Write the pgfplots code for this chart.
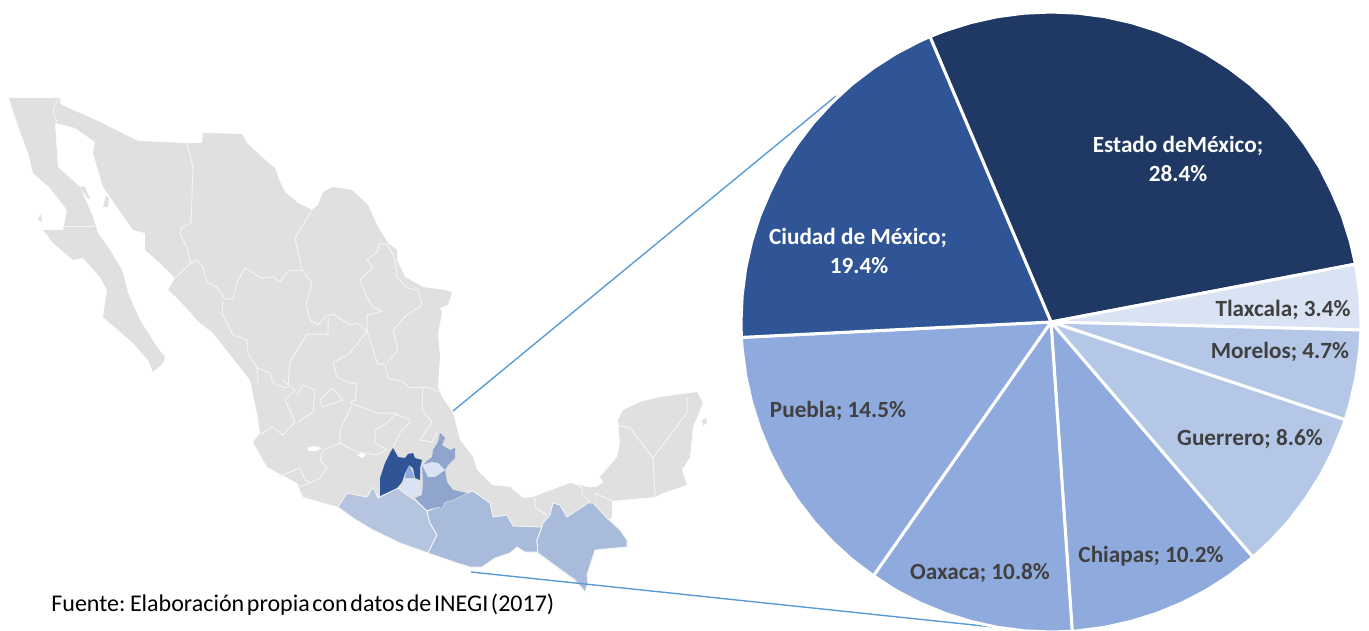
\documentclass[border=0pt]{standalone}
\usepackage{fontspec}
\setmainfont{Carlito}
\newfontfamily\fuente[WordSpace=0.5]{Carlito}
\usepackage{pgfplots}
\pgfplotsset{compat=1.18}
\definecolor{cEst}{HTML}{1F3864}
\definecolor{cCiu}{HTML}{2F5597}
\definecolor{cMid}{HTML}{8FAADC}
\definecolor{cLow}{HTML}{B4C7E7}
\definecolor{cTla}{HTML}{DAE3F3}
\definecolor{cTxt}{HTML}{404040}
\definecolor{cMap}{HTML}{E0E0E0}
\definecolor{cLine}{HTML}{5B9BD5}
\definecolor{cPue}{HTML}{8FA5CE}
\definecolor{cOax}{HTML}{A9BBDB}
\definecolor{cGro}{HTML}{B5C5E0}
\definecolor{cBrd}{HTML}{F4F4F4}
\pgfplotsset{
  slice/.style={draw=white,line width=1.5pt,line join=round,fill=#1},
  state/.style={draw=none,fill=#1},
  border/.style={draw=cBrd,line width=0.5pt,line join=round},
  cst/.style={draw=cBrd,line width=0.45pt,line join=round,fill=#1},
}
\begin{document}
\begin{tikzpicture}
\begin{axis}[hide axis,scale only axis,width=684.5pt,height=315.5pt,
  xmin=0,xmax=1369,ymin=0,ymax=631,y dir=reverse]
\path (rel axis cs:0,0) rectangle (rel axis cs:1,1);
% ---- map base
\addplot[state=cMap] coordinates {
(9,98)(61,98)(60,104)(100,122)(138,141)(187,143)(202,143)(203,133)(242,134)(247,143)(263,158)(275,168)(280,182)(285,192)(298,203)(312,210)(318,205)(323,192)(333,187)(352,190)(368,205)(378,227)(388,243)(397,250)(397,260)(405,277)(423,287)(445,290)(452,292)(448,305)(440,308)(442,313)(438,333)(440,357)(438,387)(442,397)(453,413)(460,440)(473,457)(477,470)(492,485)(510,487)(523,498)(533,497)(570,483)(588,487)(600,477)(617,457)(620,443)(618,420)(623,410)(640,402)(660,397)(697,392)(703,403)(693,427)(690,457)(682,470)(687,485)(663,493)(655,497)(612,501)(612,517)(603,525)(560,535)(450,535)(350,515)(338,507)(303,497)(297,483)(267,467)(253,442)(260,433)(257,413)(250,380)(213,333)(200,323)(177,298)(168,290)(175,278)(160,263)(145,250)(145,233)(133,230)(117,207)(103,187)(93,153)(95,142)(75,128)(55,123)(58,167)(80,187)(93,217)(98,233)(110,250)(122,270)(128,293)(140,320)(157,347)(165,357)(163,363)(153,372)(148,360)(133,343)(103,317)(107,290)(100,277)(83,258)(73,260)(53,243)(43,230)(63,230)(67,210)(50,188)(33,173)(28,153)(17,123)
} --cycle;
\addplot[state=cMap] coordinates {(103,207)(106,196)(109,198)(108,207)} --cycle;
\addplot[state=cMap] coordinates {(80,187)(84,186)(90,198)(88,199)} --cycle;
\addplot[state=cMap] coordinates {(39,217)(41,214)(42,222)(38,220)} --cycle;
\addplot[state=cMap] coordinates {(702,420)(706,418)(707,422)(703,426)} --cycle;
% ---- lakes
\addplot[state=white] coordinates {(307,448)(313,446)(322,448)(316,451)(309,451)} --cycle;
\addplot[state=white] coordinates {(357,455)(362,453)(366,455)(362,458)} --cycle;
\addplot[state=white] coordinates {(588,487)(600,477)(603,482)(596,487)} --cycle;
% ---- state borders
\addplot[border] coordinates {(63,226)(95,226)};
\addplot[border] coordinates {(61,98)(55,104)(53,113)(57,122)};
\addplot[border] coordinates {(187,143)(193,167)(191,223)(182,227)(180,233)(188,250)(190,262)(192,262)(175,278)};
\addplot[border] coordinates {(192,262)(197,260)(203,267)(207,282)(217,287)(225,299)(233,299)(237,282)(245,268)(262,278)(273,277)(280,282)(288,271)(302,270)};
\addplot[border] coordinates {(312,210)(295,238)(302,270)(312,283)(306,305)(310,320)(318,325)(325,317)(333,314)(350,325)(357,323)(367,331)};
\addplot[border] coordinates {(328,318)(328,334)(307,334)(297,350)(290,362)(288,387)};
\addplot[border] coordinates {(223,301)(222,313)(233,335)(247,340)(248,353)(257,368)(258,383)};
\addplot[border] coordinates {(257,368)(270,373)(273,383)(285,388)(288,387)};
\addplot[border] coordinates {(388,245)(380,243)(377,252)(367,260)(373,268)(360,280)(367,297)(373,307)(382,311)(367,315)(367,331)};
\addplot[border] coordinates {(388,245)(395,260)(397,277)(407,288)(418,290)(422,305)(407,315)(393,330)(398,350)(387,363)};
\addplot[border] coordinates {(367,331)(378,365)(385,363)};
\addplot[border] coordinates {(367,331)(350,353)(333,363)(337,377)(350,383)(357,383)(355,400)(350,403)(377,413)(393,413)(410,420)};
\addplot[border] coordinates {(385,365)(388,378)(403,382)(410,388)(427,387)(440,392)};
\addplot[border] coordinates {(423,388)(422,410)(432,422)(425,432)(420,440)(432,442)(437,432)};
\addplot[border] coordinates {(320,400)(332,388)(343,400)(322,407)(320,400)};
\addplot[border] coordinates {(352,405)(340,430)(340,443)(357,452)(377,455)(387,450)};
\addplot[border] coordinates {(397,413)(387,423)(375,430)(375,443)(387,450)};
\addplot[border] coordinates {(410,422)(400,433)(393,447)};
\addplot[border] coordinates {(340,443)(323,450)(320,460)(327,468)(320,478)(310,483)(300,487)};
\addplot[border] coordinates {(278,477)(300,468)(305,480)(310,483)};
\addplot[border] coordinates {(260,435)(272,427)(283,435)(295,422)(285,400)(295,390)(283,380)};
\addplot[border] coordinates {(298,422)(313,412)(315,390)(303,385)(297,395)};
\addplot[border] coordinates {(535,498)(535,507)(547,515)};
\addplot[border] coordinates {(573,483)(582,488)(582,495)(590,502)};
\addplot[border] coordinates {(595,498)(595,493)(612,501)};
\addplot[border] coordinates {(618,425)(630,428)(653,458)(655,497)};
\addplot[border] coordinates {(687,397)(687,413)(653,458)};
% ---- coloured states
\addplot[cst=cGro] coordinates {(338,507)(347,493)(367,497)(373,487)(378,498)(398,488)(407,495)(415,500)(427,511)(430,523)(437,535)(428,553)(400,543)(373,530)(353,518)} --cycle;
\addplot[cst=cOax] coordinates {(427,511)(438,507)(442,508)(445,502)(453,500)(467,493)(473,491)(490,503)(493,517)(507,515)(513,526)(542,527)(537,540)(538,552)(525,552)(517,547)(510,553)(495,558)(482,567)(470,567)(457,563)(428,553)(437,535)(430,523)} --cycle;
\addplot[cst=cOax] coordinates {(542,527)(543,523)(550,515)(553,503)(560,505)(567,517)(588,503)(593,503)(607,518)(620,530)(627,540)(627,547)(595,550)(587,575)(588,583)(585,592)(575,580)(557,567)(538,553)(537,540)} --cycle;
\addplot[state=cPue] coordinates {(440,433)(445,438)(442,445)(450,450)(455,448)(455,458)(448,465)(445,470)(447,482)(453,490)(467,493)(453,500)(445,502)(442,508)(438,507)(427,510)(415,498)(422,495)(423,482)(422,466)(428,460)(432,457)(433,450)(438,442)} --cycle;
\addplot[state=cTla] coordinates {(422,465)(432,462)(438,463)(445,470)(435,477)(428,477)} --cycle;
\addplot[state=cTla] coordinates {(405,478)(415,478)(420,482)(419,493)(410,497)(402,490)} --cycle;
\addplot[state=cMid] coordinates {(409,465)(413,473)(414,478)(405,478)(406,472)} --cycle;
\addplot[state=cCiu] coordinates {(393,448)(398,457)(405,458)(408,454)(413,453)(415,458)(422,460)(420,468)(420,480)(415,478)(413,468)(409,465)(405,473)(402,482)(397,488)(380,496)(380,478)(385,463)(390,453)} --cycle;
% ---- connectors
\addplot[draw=cLine,line width=0.7pt] coordinates {(453,411)(836,96)};
\addplot[draw=cLine,line width=0.7pt] coordinates {(471,572)(1012,629)};
% ---- pie
\addplot[slice=cEst] coordinates {(1051,322)(929.9,36.6)(945,30.7)(970.8,22.6)(997.2,16.7)(1024,13.2)(1051,12)(1078,13.2)(1104.8,16.7)(1131.2,22.6)(1157,30.7)(1182,41)(1206,53.5)(1228.8,68.1)(1250.3,84.5)(1270.2,102.8)(1288.5,122.7)(1304.9,144.2)(1319.5,167)(1332,192)(1342.3,216)(1350.4,241.8)(1355.5,264.1)} --cycle;
\addplot[slice=cTla] coordinates {(1051,322)(1355.5,264.1)(1356.3,268.2)(1359.8,295)(1361,322)(1360.9,330)} --cycle;
\addplot[slice=cLow] coordinates {(1051,322)(1360.9,330)(1359.8,349)(1356.3,375.8)(1350.4,402.2)(1345.2,419.8)} --cycle;
\addplot[slice=cLow] coordinates {(1051,322)(1345.2,419.8)(1342.3,428)(1332,453)(1319.5,477)(1304.9,499.8)(1288.5,521.3)(1270.2,541.2)(1252.9,557.2)} --cycle;
\addplot[slice=cMid] coordinates {(1051,322)(1252.9,557.2)(1228.8,575.9)(1206,590.5)(1182,603)(1157,613.3)(1131.2,621.4)(1104.8,627.3)(1078,630.8)(1072.2,631.3)} --cycle;
\addplot[slice=cMid] coordinates {(1051,322)(1072.2,631.3)(1051,632)(1024,630.8)(997.2,627.3)(970.8,621.4)(945,613.3)(920,603)(896,590.5)(873.4,575.8)} --cycle;
\addplot[slice=cMid] coordinates {(1051,322)(873.4,575.8)(851.7,559.5)(831.8,541.2)(813.5,521.3)(797.1,499.8)(782.5,477)(770,453)(759.7,428)(751.6,402.2)(745.7,375.8)(742.2,349)(741.4,337.4)} --cycle;
\addplot[slice=cCiu] coordinates {(1051,322)(741.4,337.4)(741,322)(742.2,295)(745.7,268.2)(751.6,241.8)(759.7,216)(770,192)(782.5,167)(797.1,144.2)(813.5,122.7)(831.8,102.8)(851.7,84.5)(873.2,68.1)(896,53.5)(920,41)(929.9,36.6)} --cycle;
% ---- labels
\tikzset{lab/.style={font=\fontsize{11.6}{13}\selectfont\bfseries,inner sep=0pt,anchor=center}}
\node[lab,text=white] at (axis cs:1178,146) {Estado deMéxico;};
\node[lab,text=white] at (axis cs:1178,174) {28.4\%};
\node[lab,text=white] at (axis cs:858,238) {Ciudad de México;};
\node[lab,text=white] at (axis cs:859,266) {19.4\%};
\node[lab,text=cTxt] at (axis cs:1283,310) {Tlaxcala; 3.4\%};
\node[lab,text=cTxt] at (axis cs:1280,352) {Morelos; 4.7\%};
\node[lab,text=cTxt] at (axis cs:1250,439) {Guerrero; 8.6\%};
\node[lab,text=cTxt] at (axis cs:1151,556) {Chiapas; 10.2\%};
\node[lab,text=cTxt] at (axis cs:980,573) {Oaxaca; 10.8\%};
\node[lab,text=cTxt] at (axis cs:838,411) {Puebla; 14.5\%};
\node[font=\fuente\fontsize{12}{13}\selectfont,inner sep=0pt,anchor=west,text=black] at (axis cs:51,605) {Fuente: Elaboración propia con datos de INEGI (2017)};
\end{axis}
\end{tikzpicture}
\end{document}
